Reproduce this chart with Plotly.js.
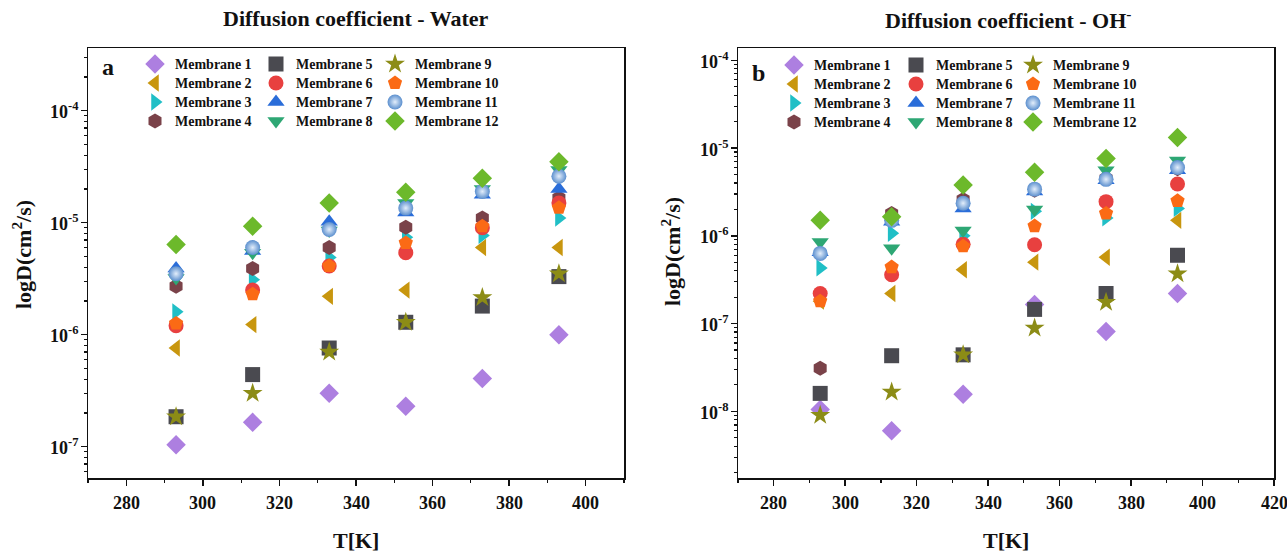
<!DOCTYPE html>
<html>
<head>
<meta charset="utf-8">
<script src="https://cdn.plot.ly/plotly-3.0.1.min.js"></script>
<style>html,body{margin:0;padding:0;background:#fff;}#chart{width:1287px;height:552px;}</style>
</head>
<body>
<div id="chart"></div>
<script>
// ---- data ----
const temperatures = [293, 313, 333, 353, 373, 393];
const membraneNames = ["Membrane 1","Membrane 2","Membrane 3","Membrane 4","Membrane 5","Membrane 6",
                       "Membrane 7","Membrane 8","Membrane 9","Membrane 10","Membrane 11","Membrane 12"];
// tick labels
const xTickValsWater = [280, 300, 320, 340, 360, 380, 400];
const xTickValsOH = [280, 300, 320, 340, 360, 380, 400, 420];
const yTickExpWater = [-7, -6, -5, -4];
const yTickExpOH = [-8, -7, -6, -5, -4];

// Diffusion coefficient - Water (cm^2/s)
const water1  = [1.04e-7, 1.65e-7, 3.0e-7, 2.3e-7, 4.07e-7, 1.0e-6];
const water2  = [7.6e-7, 1.23e-6, 2.2e-6, 2.5e-6, 6.0e-6, 6.0e-6];
const water3  = [1.6e-6, 3.1e-6, 4.9e-6, 7.4e-6, 7.7e-6, 1.1e-5];
const water4  = [2.7e-6, 3.9e-6, 6.0e-6, 9.1e-6, 1.1e-5, 1.66e-5];
const water5  = [1.85e-7, 4.4e-7, 7.6e-7, 1.29e-6, 1.8e-6, 3.3e-6];
const water6  = [1.2e-6, 2.5e-6, 4.1e-6, 5.4e-6, 9.0e-6, 1.5e-5];
const water7  = [3.9e-6, 5.6e-6, 1.02e-5, 1.23e-5, 1.78e-5, 2.0e-5];
const water8  = [3.2e-6, 5.4e-6, 8.5e-6, 1.5e-5, 2.0e-5, 2.95e-5];
const water9  = [1.85e-7, 3.0e-7, 7.0e-7, 1.29e-6, 2.15e-6, 3.5e-6];
const water10 = [1.26e-6, 2.3e-6, 4.1e-6, 6.6e-6, 9.3e-6, 1.36e-5];
const water11 = [3.5e-6, 6.0e-6, 8.7e-6, 1.35e-5, 1.9e-5, 2.6e-5];
const water12 = [6.4e-6, 9.3e-6, 1.5e-5, 1.87e-5, 2.5e-5, 3.5e-5];

// Diffusion coefficient - OH- (cm^2/s)
const oh1  = [1.05e-8, 6.0e-9, 1.56e-8, 1.65e-7, 8.1e-8, 2.2e-7];
const oh2  = [1.8e-7, 2.2e-7, 4.1e-7, 5.0e-7, 5.7e-7, 1.5e-6];
const oh3  = [4.3e-7, 1.07e-6, 1.0e-6, 1.9e-6, 1.6e-6, 2.05e-6];
const oh4  = [3.1e-8, 1.8e-6, 2.6e-6, 3.3e-6, 4.5e-6, 5.8e-6];
const oh5  = [1.6e-8, 4.3e-8, 4.4e-8, 1.45e-7, 2.2e-7, 6.0e-7];
const oh6  = [2.2e-7, 3.6e-7, 8.0e-7, 7.9e-7, 2.45e-6, 3.9e-6];
const oh7  = [6.5e-7, 1.45e-6, 2.05e-6, 3.2e-6, 4.3e-6, 5.6e-6];
const oh8  = [8.5e-7, 7.2e-7, 1.15e-6, 2.0e-6, 5.6e-6, 7.2e-6];
const oh9  = [9.0e-9, 1.66e-8, 4.4e-8, 8.9e-8, 1.75e-7, 3.7e-7];
const oh10 = [1.8e-7, 4.4e-7, 7.6e-7, 1.29e-6, 1.8e-6, 2.5e-6];
const oh11 = [6.3e-7, 1.5e-6, 2.35e-6, 3.4e-6, 4.4e-6, 6.0e-6];
const oh12 = [1.5e-6, 1.65e-6, 3.8e-6, 5.3e-6, 7.6e-6, 1.32e-5];

const waterSeries = [water1,water2,water3,water4,water5,water6,water7,water8,water9,water10,water11,water12];
const ohSeries = [oh1,oh2,oh3,oh4,oh5,oh6,oh7,oh8,oh9,oh10,oh11,oh12];

// ---- styles ----
const symbols = ["diamond","triangle-left","triangle-right","hexagon","square","circle",
                 "triangle-up","triangle-down","star","pentagon","circle","diamond"];
const colors = ["#ad7fe0","#c8960e","#20bfc6","#7a4249","#4a4a50","#e8403f",
                "#2a6dd9","#2ea774","#8c8c16","#fb6a15","#5b8fce","#6cb92b"];

const FONT = "Liberation Serif";
const W = 1287, H = 552;
const boldFont = size => ({family: FONT, size: size, color: "#111", weight: "bold"});

// legend grid (3 columns x 4 rows, column-major) for each panel
const legendColX = [[135, 256, 375], [774, 896, 1013]];
const legendRow0 = [64, 65];
const legendRowGap = 19;
const legendFontSize = 14;
const legendItemH = Math.max(legendFontSize * 1.3, 16) + 3;

const traces = [];
const legends = {};
function addSet(series, xa, ya, s) {
  series.forEach((vals, i) => {
    const marker = {symbol: symbols[i], color: colors[i], size: 15, line: {width: 0}};
    if (i === 10) marker.gradient = {type: "radial", color: "#e3eefb"};
    const n = s * 12 + i + 1;
    const lid = n === 1 ? "legend" : "legend" + n;
    const col = Math.floor(i / 4), row = i % 4;
    const top = legendRow0[s] + row * legendRowGap - (5 + legendItemH / 2);
    legends[lid] = {
      x: legendColX[s][col] / W, y: 1 - top / H, xref: "container", yref: "container",
      xanchor: "left", yanchor: "top", orientation: "v",
      bgcolor: "rgba(0,0,0,0)", borderwidth: 0, itemwidth: 30,
      font: boldFont(legendFontSize)
    };
    traces.push({
      type: "scatter", mode: "markers",
      x: temperatures, y: vals,
      name: membraneNames[i],
      xaxis: xa, yaxis: ya,
      legend: lid,
      marker: marker,
      cliponaxis: true
    });
  });
}
addSet(waterSeries, "x", "y", 0);
addSet(ohSeries, "x2", "y2", 1);

// ---- layout ----
const mL = 88, mR = 13, mT = 48, mB = 74;
const pw = W - mL - mR, ph = H - mT - mB;
const px = v => (v - mL) / pw;
const py = v => (H - mB - v) / ph;

function xAxis(domain, range, anchor, tickvals) {
  return {
    domain: domain, range: range, anchor: anchor,
    tickmode: "array", tickvals: tickvals, showticklabels: false,
    ticks: "outside", ticklen: 6, tickwidth: 1.5, tickcolor: "#111",
    minor: {ticks: "outside", dtick: 10, tick0: 270, ticklen: 3, tickwidth: 1.2, tickcolor: "#111"},
    showline: true, linewidth: 1.5, linecolor: "#111", mirror: true,
    showgrid: false, zeroline: false, automargin: false
  };
}
function yAxis(range, anchor, tickexp) {
  return {
    type: "log", range: range, anchor: anchor, domain: [0, 1],
    tickmode: "array", tickvals: tickexp.map(e => Math.pow(10, e)), showticklabels: false,
    ticks: "outside", ticklen: 6, tickwidth: 1.5, tickcolor: "#111",
    minor: {ticks: "outside", dtick: "D1", ticklen: 3, tickwidth: 1.2, tickcolor: "#111"},
    showline: true, linewidth: 1.5, linecolor: "#111", mirror: true,
    showgrid: false, zeroline: false, automargin: false
  };
}

const TICK_SIZE = 18;
const tickSpan = s => '<span style="font-size:' + TICK_SIZE + 'px;font-weight:bold;font-family:Liberation Serif">' + s + '</span>';
const annotations = [
  {text: "Diffusion coefficient - Water", xref: "paper", yref: "paper", x: px(356), y: py(19),
   showarrow: false, xanchor: "center", yanchor: "middle", font: boldFont(22)},
  {text: "Diffusion coefficient - OH<sup>-</sup>", xref: "paper", yref: "paper", x: px(1008), y: py(19),
   showarrow: false, xanchor: "center", yanchor: "middle", font: boldFont(22)},
  {text: "logD(cm<sup>2</sup>/s)", xref: "paper", yref: "paper", x: px(22), y: py(255),
   showarrow: false, xanchor: "center", yanchor: "middle", textangle: -90, font: boldFont(22)},
  {text: "logD(cm<sup>2</sup>/s)", xref: "paper", yref: "paper", x: px(671), y: py(252),
   showarrow: false, xanchor: "center", yanchor: "middle", textangle: -90, font: boldFont(22)},
  {text: "T[K]", xref: "paper", yref: "paper", x: px(356), y: py(540),
   showarrow: false, xanchor: "center", yanchor: "middle", font: boldFont(22)},
  {text: "T[K]", xref: "paper", yref: "paper", x: px(1006), y: py(540),
   showarrow: false, xanchor: "center", yanchor: "middle", font: boldFont(22)},
  {text: "a", xref: "paper", yref: "paper", x: px(108), y: py(67),
   showarrow: false, xanchor: "center", yanchor: "middle", font: boldFont(24)},
  {text: "b", xref: "paper", yref: "paper", x: px(758), y: py(73),
   showarrow: false, xanchor: "center", yanchor: "middle", font: boldFont(24)}
];
// tick labels placed through the axes' own scales
function addXTickLabels(vals, xref) {
  vals.forEach(v => annotations.push({
    text: tickSpan(String(v)), xref: xref, yref: "paper", x: v, y: py(503),
    showarrow: false, xanchor: "center", yanchor: "middle", font: boldFont(TICK_SIZE)
  }));
}
function addYTickLabels(exps, yref, xLabelPx) {
  exps.forEach(e => annotations.push({
    text: tickSpan("10<sup>" + e + "</sup>"), xref: "paper", yref: yref, x: px(xLabelPx), y: e,
    showarrow: false, xanchor: "right", yanchor: "middle", font: boldFont(TICK_SIZE)
  }));
}
addXTickLabels(xTickValsWater, "x");
addXTickLabels(xTickValsOH, "x2");
addYTickLabels(yTickExpWater, "y", 81);
addYTickLabels(yTickExpOH, "y2", 731);

const layout = Object.assign({
  width: W, height: H,
  font: boldFont(17),
  margin: {l: mL, r: mR, t: mT, b: mB, autoexpand: false},
  paper_bgcolor: "#fff", plot_bgcolor: "#fff",
  showlegend: true,
  xaxis: xAxis([0, px(624)], [270, 410], "y", xTickValsWater),
  yaxis: yAxis([-7.28, -3.44], "x", yTickExpWater),
  xaxis2: xAxis([px(738), 1], [270, 420], "y2", xTickValsOH),
  yaxis2: yAxis([-8.76, -3.86], "x2", yTickExpOH),
  annotations: annotations
}, legends);

Plotly.newPlot("chart", traces, layout, {displayModeBar: false, staticPlot: true});
</script>
</body>
</html>
